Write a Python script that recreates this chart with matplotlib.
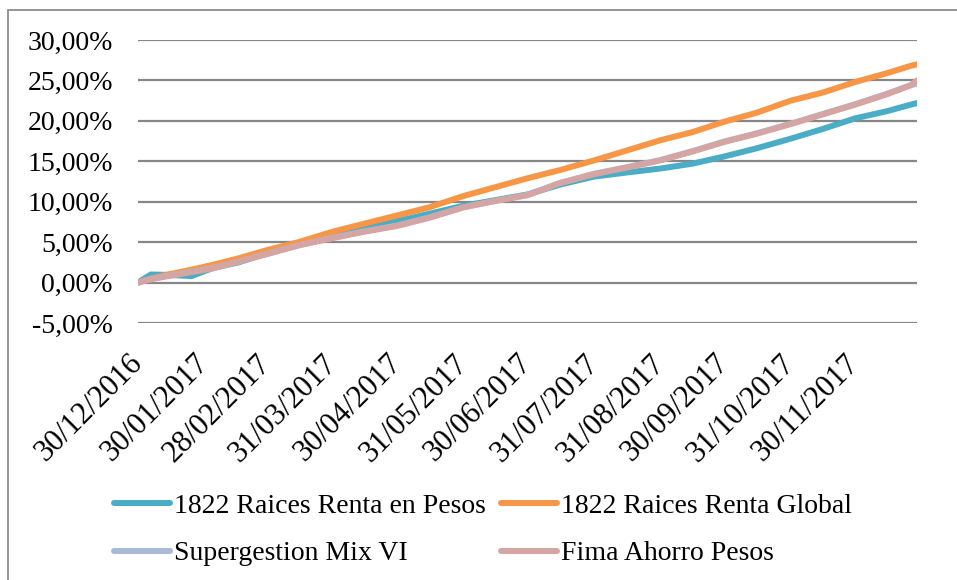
import matplotlib
matplotlib.use("Agg")
import matplotlib.pyplot as plt
from matplotlib.patches import Rectangle
from matplotlib.ticker import FuncFormatter
import datetime as dt

plt.rcParams['font.family'] = ['Liberation Serif', 'DejaVu Serif']

dates = ["2016-12-30", "2017-01-05", "2017-01-13", "2017-01-24", "2017-02-03", "2017-02-15",
         "2017-02-28", "2017-03-15", "2017-03-31", "2017-04-15", "2017-04-30", "2017-05-15",
         "2017-05-31", "2017-06-15", "2017-06-30", "2017-07-15", "2017-07-31", "2017-08-15",
         "2017-08-31", "2017-09-15", "2017-09-30", "2017-10-15", "2017-10-31", "2017-11-15",
         "2017-11-30", "2017-12-15", "2017-12-26", "2017-12-29"]

renta_pesos = [0.0, 1.0, 0.95, 0.8, 1.8, 2.5, 3.6, 4.8, 5.9, 6.7, 7.6, 8.5, 9.5, 10.2, 10.9,
               12.1, 13.1, 13.6, 14.1, 14.7, 15.6, 16.6, 17.8, 19.0, 20.3, 21.2, 22.0, 22.2]
renta_global = [0.0, 0.5, 1.0, 1.6, 2.2, 3.0, 4.0, 5.0, 6.3, 7.3, 8.3, 9.3, 10.7, 11.8, 12.9,
                13.9, 15.1, 16.3, 17.6, 18.6, 19.9, 21.0, 22.5, 23.5, 24.8, 25.9, 26.8, 27.0]
supergestion = [0.0, 0.45, 0.85, 1.35, 1.8, 2.6, 3.55, 4.6, 5.55, 6.35, 7.05, 8.05, 9.3, 10.1,
                10.85, 12.3, 13.45, 14.25, 15.15, 16.25, 17.45, 18.45, 19.65, 20.85, 22.05,
                23.35, 24.4, 24.6]
fima = [0.0, 0.4, 0.8, 1.3, 1.75, 2.6, 3.5, 4.6, 5.5, 6.3, 7.0, 8.0, 9.3, 10.1, 10.8, 12.3,
        13.4, 14.2, 15.1, 16.2, 17.4, 18.4, 19.6, 20.8, 22.0, 23.3, 24.4, 25.0]

series_names = ["1822 Raices Renta en Pesos", "1822 Raices Renta Global",
                "Supergestion Mix VI", "Fima Ahorro Pesos"]
tick_labels = ["30/12/2016", "30/01/2017", "28/02/2017", "31/03/2017", "30/04/2017",
               "31/05/2017", "30/06/2017", "31/07/2017", "31/08/2017", "30/09/2017",
               "31/10/2017", "30/11/2017"]

x = [dt.datetime.strptime(d, "%Y-%m-%d") for d in dates]
ticks = [dt.datetime.strptime(t, "%d/%m/%Y") for t in tick_labels]

W, H = 957, 580
fig = plt.figure(figsize=(W / 100, H / 100), dpi=100)
fig.patch.set_facecolor("white")
fig.patches.append(Rectangle((8 / W, -0.05), 1.1, 1 - 10 / H + 0.05, transform=fig.transFigure,
                             fill=False, edgecolor="#8c8c8c", linewidth=1.3))

ax = fig.add_axes([138 / W, 1 - 323 / H, (917 - 138) / W, (323 - 40) / H])
colors = ["#4BACC6", "#F79646", "#A9B9D8", "#D5A5A3"]
lw = 4.3
for vals, c, name in zip([renta_pesos, renta_global, supergestion, fima], colors, series_names):
    ax.plot(x, vals, color=c, linewidth=lw, label=name, solid_capstyle="round",
            solid_joinstyle="round")

ax.set_ylim(-5, 30)
ax.set_yticks(range(-5, 31, 5))
ax.yaxis.set_major_formatter(FuncFormatter(lambda v, p: f"{v:.2f}%".replace(".", ",")))
ax.set_xlim(x[0], x[-1])
ax.set_xticks(ticks)
ax.set_xticklabels(tick_labels, rotation=45, ha="right", va="center", rotation_mode="anchor",
                   fontsize=22)
for s in ax.spines.values():
    s.set_visible(False)
ax.grid(axis="y", color="#878787", linewidth=1.6)
ax.set_axisbelow(True)
ax.tick_params(axis="y", length=0, labelsize=20, colors="black", pad=18)
ax.tick_params(axis="x", length=0, colors="black", pad=26)

h, l = ax.get_legend_handles_labels()
order = [0, 2, 1, 3]
leg = fig.legend([h[i] for i in order], [l[i] for i in order], ncol=2,
                 loc="center", bbox_to_anchor=(0.505, 1 - 530 / H), frameon=False,
                 fontsize=20, handlelength=2.0, handletextpad=0.15, columnspacing=0.55,
                 labelspacing=0.78)
fig.savefig("out.png", dpi=100)
